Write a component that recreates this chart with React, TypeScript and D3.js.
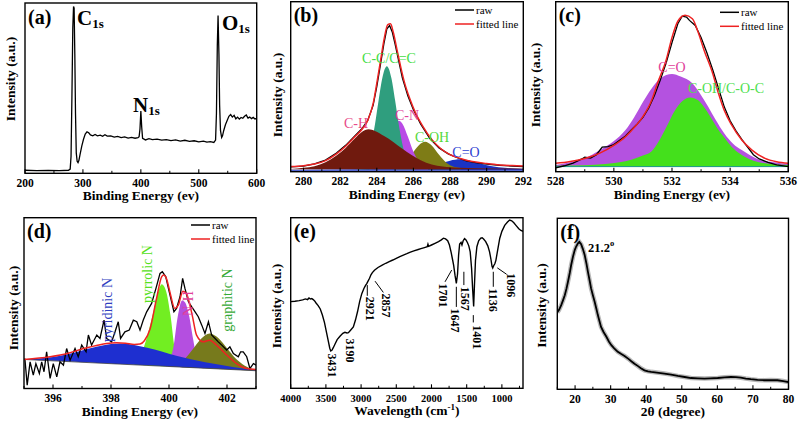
import React from "react";
import * as d3 from "d3";

type Pt = [number, number];

// ---------- (a) XPS survey ----------
const surveySpectrum: Pt[] = [
  [200, 1.8], [220, 1.6], [240, 1.7], [260, 1.6], [275, 1.8], [278, 2.5], [279.5, 10], [281, 45], [282.5, 85],
  [283.8, 98], [284.8, 97], [286, 70], [287.2, 35], [288.5, 12], [290, 7], [291.5, 6.3], [293, 7.5], [295, 11],
  [298, 16], [301, 20], [304, 23], [307, 24.3], [310, 23.8], [313, 22.5], [317, 22], [321, 22.8], [325, 22],
  [330, 22.4], [334, 21.7], [338, 22.6], [342, 21.8], [348, 21.9], [354, 21.2], [360, 21.7], [366, 21],
  [372, 21.4], [378, 20.7], [384, 21.1], [390, 20.6], [395, 20.9], [397, 21.5], [398.5, 26], [400, 36.5],
  [401.5, 27], [403, 20.5], [408, 19.6], [414, 20.3], [420, 19.8], [428, 20.1], [436, 19.5], [444, 19.8],
  [452, 19.2], [460, 19.6], [468, 18.9], [476, 19.4], [484, 18.8], [492, 19.1], [500, 18.5], [508, 18.9],
  [514, 18.3], [520, 18.6], [526, 18.1], [529, 19.5], [530.5, 35], [532, 75], [533.3, 92.7], [534.8, 70],
  [536, 40], [537.5, 25], [539.5, 21], [541, 22], [543, 25], [546, 28.5], [549, 31], [552, 33.5], [555, 34.5],
  [558, 33], [561, 34], [564, 32], [567, 33], [570, 31.8], [573, 32.8], [576, 32.3], [579, 33.5], [582, 34.2],
  [585, 32.4], [588, 33], [591, 32.1], [594, 32.8], [597, 31.9], [600, 32.3],
];
const surveyTicks = [200, 300, 400, 500, 600];
const surveyMinor = [250, 350, 450, 550];

// ---------- (b) C1s ----------
const c1sRaw: Pt[] = [
  [279.3, 2.8], [280, 3.3], [280.6, 4.6], [281.2, 6.8], [281.8, 11], [282.3, 15.5], [282.8, 21], [283.2, 25.5],
  [283.5, 30], [283.8, 39], [284.0, 50], [284.2, 63], [284.4, 76], [284.55, 84], [284.7, 86], [284.85, 82],
  [285.0, 75], [285.2, 65], [285.4, 55], [285.7, 44.5], [286.0, 36.5], [286.4, 28], [286.9, 19.5], [287.4, 14],
  [287.9, 10.5], [288.4, 8.2], [288.9, 6.3], [289.4, 5.3], [290, 4.5], [290.7, 3.8], [291.4, 3.3], [292, 3],
];
const c1sFit: Pt[] = [
  [279.3, 3.0], [280.0, 3.5], [280.6, 4.5], [281.2, 6.5], [281.8, 10.5], [282.3, 15], [282.8, 20.5], [283.2, 25],
  [283.5, 30], [283.8, 40], [284.0, 52], [284.2, 65], [284.4, 78], [284.6, 86.5], [284.75, 87], [284.9, 82],
  [285.1, 72], [285.3, 62], [285.5, 53], [285.8, 43], [286.1, 35], [286.5, 27], [287.0, 19], [287.5, 13.5],
  [288.0, 10], [288.5, 8], [289.0, 6.5], [289.5, 5.5], [290.0, 4.8], [290.7, 4.0], [291.4, 3.6], [292, 3.4],
];
const c1sCH: Pt[] = [
  [279.3, 1.6], [280.0, 2.3], [280.6, 3.2], [281.2, 5.5], [281.8, 9.5], [282.3, 14], [282.8, 19.5], [283.2, 23.5],
  [283.55, 25], [283.9, 24], [284.4, 21], [284.9, 17.5], [285.4, 13.5], [285.9, 9.8], [286.4, 6.8], [287.0, 4.3],
  [287.6, 3], [288.5, 2.3], [289.5, 2.0], [292, 1.8],
];
const c1sCC: Pt[] = [
  [282.9, 2], [283.3, 4.6], [283.6, 11.9], [283.9, 27.8], [284.1, 42], [284.3, 55], [284.55, 62], [284.8, 55],
  [285.0, 42], [285.2, 27.8], [285.5, 11.9], [285.8, 4.6], [286.1, 2.5],
];
const c1sCN: Pt[] = [
  [283.6, 2.4], [284.0, 4.6], [284.4, 11.7], [284.7, 20.5], [285.0, 28.2], [285.2, 30], [285.4, 28.2],
  [285.7, 20.5], [286.0, 11.7], [286.4, 4.6], [286.8, 2.4],
];
const c1sCOH: Pt[] = [
  [285.0, 2.6], [285.5, 5.4], [285.9, 10.2], [286.3, 15.6], [286.64, 17.6], [287.0, 15.4], [287.4, 9.9],
  [287.8, 5.2], [288.2, 2.9], [288.6, 2.2],
];
const c1sCO: Pt[] = [
  [279.3, 1.2], [283, 1.5], [285, 1.8], [286.0, 2.2], [286.8, 3.2], [287.5, 5.0], [288.0, 6.5], [288.55, 7.3],
  [289.1, 6.5], [289.6, 5.0], [290.3, 3.2], [291.0, 2.3], [292, 1.8],
];
const c1sTicks = [280, 282, 284, 286, 288, 290, 292];
const c1sMinor = [281, 283, 285, 287, 289, 291];

// ---------- (c) O1s ----------
const o1sRaw: Pt[] = [
  [528, 2.2], [528.3, 3.5], [528.6, 5], [528.9, 7.5], [529.0, 8.5], [529.2, 8], [529.4, 10], [529.6, 14.5],
  [529.8, 14.8], [530.0, 16], [530.2, 18.5], [530.4, 21], [530.6, 24.5], [530.8, 28], [531.0, 32], [531.2, 37.5],
  [531.4, 45], [531.6, 54], [531.8, 64], [532.0, 76], [532.2, 87], [532.35, 91.5], [532.5, 91], [532.6, 89],
  [532.8, 86], [533.0, 79], [533.2, 70], [533.4, 60], [533.6, 49], [533.8, 38], [534.0, 30], [534.2, 24],
  [534.4, 19], [534.6, 14.5], [534.8, 10], [535.0, 7.5], [535.3, 5.5], [535.6, 4], [536, 3],
];
const o1sFit: Pt[] = [
  [528, 4.9], [528.5, 6], [529, 7.8], [529.5, 10.8], [530, 15.5], [530.4, 20.6], [530.7, 26], [531.0, 32.4],
  [531.3, 42], [531.5, 52], [531.8, 65.7], [532.0, 79], [532.2, 88.5], [532.45, 92], [532.7, 90], [532.9, 82],
  [533.1, 71.6], [533.4, 57.8], [533.6, 46], [533.8, 36], [534.05, 27.5], [534.4, 18.6], [534.75, 12.7],
  [535.2, 7.8], [535.6, 5.8], [536, 4.9],
];
const o1sCO: Pt[] = [
  [528, 4], [528.5, 5.5], [529, 8], [529.5, 12.5], [530, 18], [530.4, 24.5], [530.7, 32], [531.0, 41],
  [531.3, 49], [531.6, 55], [532.0, 57.5], [532.3, 56], [532.7, 52], [533.0, 45], [533.25, 38], [533.5, 30.5],
  [533.8, 22.5], [534.1, 16.5], [534.4, 12.7], [534.7, 9.5], [535.0, 7], [535.5, 5.5], [536, 4.5],
];
const o1sCOH: Pt[] = [
  [528, 3.5], [529, 3.8], [529.7, 4.5], [530.2, 5.5], [530.6, 7], [531.0, 9.5], [531.3, 12], [531.55, 18],
  [531.8, 26], [532.1, 36], [532.35, 41.5], [532.62, 43.7], [532.9, 42], [533.1, 38], [533.35, 31.5],
  [533.6, 24.5], [533.85, 19], [534.05, 14.7], [534.3, 11], [534.5, 8.8], [534.8, 6.5], [535.2, 4.9],
  [535.6, 4.2], [536, 3.9],
];
const o1sTicks = [528, 530, 532, 534, 536];
const o1sMinor = [529, 531, 533, 535];

// ---------- (d) N1s ----------
const n1sRaw: Pt[] = [
  [395.03, 17.6], [395.11, 2.0], [395.21, 15.6], [395.32, 7.8], [395.41, 14.6], [395.53, 8.8], [395.61, 15.6],
  [395.69, 9.8], [395.78, 21.5], [395.9, 5.9], [396.01, 14.6], [396.13, 6.8], [396.24, 15.6], [396.36, 13.7],
  [396.47, 23.4], [396.59, 16.6], [396.76, 23.4], [396.87, 18.6], [396.99, 25.4], [397.14, 21.5], [397.22, 31.3],
  [397.33, 25.4], [397.51, 31.3], [397.62, 29.3], [397.76, 40.0], [397.85, 29.3], [398.02, 27.3], [398.14, 33.2],
  [398.25, 39.1], [398.33, 29.3], [398.48, 33.2], [398.63, 34.2], [398.77, 40.0], [398.89, 39.1], [399.0, 34.2],
  [399.11, 40.0], [399.23, 44.9], [399.4, 49.8], [399.55, 58.6], [399.69, 67.4], [399.77, 68.4], [399.89, 65.4],
  [399.98, 58.6], [400.09, 50.8], [400.17, 44.9], [400.26, 46.9], [400.38, 53.7], [400.47, 64.5], [400.55, 58.6],
  [400.67, 50.8], [400.78, 47.9], [400.9, 44.9], [401.01, 42.0], [401.13, 37.1], [401.24, 32.2], [401.36, 39.1],
  [401.47, 31.3], [401.59, 29.3], [401.7, 27.3], [401.82, 25.4], [401.99, 22.5], [402.1, 24.4], [402.22, 20.5],
  [402.39, 18.6], [402.47, 21.5], [402.56, 21.5], [402.68, 18.6], [402.79, 11.7], [402.91, 14.6], [403.0, 13.7],
];
const n1sFit: Pt[] = [
  [395.0, 17.0], [395.9, 18.6], [396.5, 20.5], [397.05, 23.4], [397.5, 25.2], [397.85, 26.4], [398.2, 26.8],
  [398.5, 26.5], [398.8, 25.8], [399.0, 26.0], [399.15, 28.0], [399.35, 35.0], [399.57, 52.7], [399.75, 65.5],
  [399.82, 66.4], [399.92, 64.0], [400.03, 56.6], [400.2, 46.9], [400.32, 48.8], [400.48, 57.0], [400.6, 55.5],
  [400.8, 43.0], [400.95, 31.2], [401.18, 27.3], [401.4, 28.3], [401.64, 25.4], [402.0, 19.5], [402.33, 14.6],
  [402.68, 11.7], [403.0, 11.1],
];
const n1sBaseline: Pt[] = [[395, 17], [403, 10.4]];
const n1sPyridinic: Pt[] = [
  [395.0, 17.0], [395.5, 17.6], [396, 18.5], [396.5, 20], [397, 22.2], [397.5, 24.4], [398, 26.0], [398.3, 26.3],
  [398.6, 26], [399, 24.8], [399.5, 22.8], [400, 20.4], [400.5, 18.2], [401, 16.3], [401.5, 14.6], [402, 13.2],
  [402.5, 11.9], [403, 10.8],
];
const n1sPyrrolic: Pt[] = [
  [398.8, 14], [399.0, 18], [399.15, 25], [399.3, 34], [399.45, 44], [399.6, 55], [399.75, 61], [399.9, 57],
  [400.05, 43], [400.2, 23], [400.35, 15], [400.5, 13],
];
const n1sNH: Pt[] = [
  [399.9, 13.5], [400.0, 16], [400.15, 24], [400.3, 42], [400.45, 51.5], [400.55, 50.5], [400.7, 42],
  [400.82, 30], [400.92, 21], [401.05, 15], [401.2, 13],
];
const n1sGraphitic: Pt[] = [
  [400.0, 12.9], [400.2, 13.5], [400.5, 16.5], [400.8, 22.5], [401.1, 29], [401.4, 32.2], [401.7, 29.5],
  [402.0, 23.5], [402.3, 17.5], [402.6, 13.5], [402.9, 11.2], [403, 10.8],
];
const n1sTicks = [396, 398, 400, 402];
const n1sMinor = [395, 397, 399, 401, 403];

// ---------- (e) FTIR ----------
const ftirSpectrum: Pt[] = [
  [4000, 50.8], [3940, 51.0], [3880, 51.4], [3830, 51.8], [3790, 52.4], [3760, 52.0], [3740, 52.9], [3720, 52.3],
  [3700, 52.6], [3680, 52.0], [3660, 51.2], [3640, 50.0], [3610, 48.5], [3580, 46.5], [3550, 43.0], [3520, 38.5],
  [3490, 32.5], [3465, 27.5], [3445, 23.5], [3431, 21.9], [3415, 22.3], [3395, 23.8], [3370, 26.0], [3340, 28.5],
  [3300, 30.5], [3260, 32.2], [3230, 32.8], [3200, 32.4], [3180, 32.6], [3150, 34.0], [3110, 36.0], [3080, 40.0],
  [3050, 45.0], [3020, 51.0], [2990, 55.5], [2960, 58.5], [2935, 60.5], [2921, 61.2], [2905, 62.5], [2880, 64.5],
  [2860, 66.5], [2840, 67.8], [2810, 69.2], [2760, 70.8], [2700, 72.2], [2650, 73.3], [2600, 74.3], [2550, 75.2],
  [2500, 76.2], [2450, 77.2], [2400, 78.1], [2350, 78.9], [2300, 79.8], [2250, 80.6], [2200, 81.2], [2150, 81.9],
  [2100, 82.5], [2060, 83.0], [2050, 84.5], [2040, 83.2], [2000, 84.0], [1950, 85.0], [1900, 86.0], [1860, 87.0],
  [1830, 88.0], [1800, 87.6], [1770, 86.5], [1745, 84.0], [1720, 79.5], [1701, 75.5], [1685, 72.0], [1665, 66.0],
  [1647, 61.5], [1630, 67.0], [1615, 78.0], [1600, 84.5], [1580, 85.5], [1567, 84.0], [1550, 86.5], [1530, 87.8],
  [1510, 87.0], [1490, 85.5], [1470, 83.5], [1450, 80.0], [1430, 70.0], [1415, 58.0], [1401, 47.9], [1390, 60.0],
  [1375, 75.0], [1355, 83.0], [1330, 86.5], [1300, 88.0], [1280, 88.2], [1260, 87.5], [1230, 86.0], [1200, 83.5],
  [1175, 80.0], [1155, 75.5], [1140, 71.5], [1130, 70.5], [1115, 72.0], [1100, 73.0], [1085, 75.0], [1060, 81.0],
  [1030, 88.0], [1000, 92.0], [960, 95.5], [920, 97.5], [890, 98.6], [860, 98.2], [830, 97.0], [800, 95.5],
  [760, 93.5], [730, 92.5], [700, 92.0],
];
const ftirTicks = [4000, 3500, 3000, 2500, 2000, 1500, 1000];
const ftirMinor = [3750, 3250, 2750, 2250, 1750, 1250, 750];
const ftirPeakLabels = ["3431", "3190", "2921", "2857", "1701", "1647", "1567", "1401", "1136", "1096"];
// label anchors (top of rotated label) in data coordinates
const ftirLabelAnchors: Pt[] = [
  [3417, 20.4], [3158, 29.2], [2870, 53.6], [2646, 55.6], [1840, 61.5], [1672, 46.8], [1528, 59.5],
  [1358, 37], [1122, 58.5], [875, 67.4],
];
const ftirLeaders: (Pt[] | null)[] = [
  null, null,
  [[2912, 60.5], [2912, 54.2]],
  [[2802, 62.8], [2684, 56.2]],
  [[1713, 69.3], [1808, 62.4]],
  [[1647, 59.5], [1647, 47.7]],
  [[1540, 68.3], [1540, 60.5]],
  [[1406, 42.9], [1406, 38.6]],
  [[1122, 68.3], [1122, 59.5]],
  [[1065, 70.6], [932, 66.8]],
];

// ---------- (f) XRD ----------
const xrdPattern: Pt[] = [
  [15, 45.0], [15.5, 46.5], [16.1, 49.2], [16.6, 52], [17.1, 55], [17.6, 59], [18.0, 62.9], [18.5, 68],
  [18.9, 72.7], [19.4, 77.5], [19.9, 81.4], [20.3, 83.5], [20.8, 85.4], [21.2, 86.2], [21.7, 84.8], [22.2, 82],
  [22.7, 78.5], [23.2, 73.5], [23.6, 68.8], [24.1, 63.5], [24.5, 59], [25.0, 55], [25.5, 51.2], [26.0, 47],
  [26.4, 43.4], [26.9, 39.5], [27.3, 36.5], [28.0, 33.5], [28.8, 30.7], [29.5, 28], [30.2, 25.8], [31.0, 24],
  [32.0, 21.9], [33.0, 20.6], [33.9, 19.5], [35.0, 17.8], [35.8, 16.4], [36.7, 15], [37.6, 13.7], [38.5, 12.3],
  [39.5, 11.1], [40.5, 10.5], [41.4, 10.2], [43, 9.8], [45.1, 9.2], [47, 8.6], [48.9, 7.8], [50.8, 7.2],
  [52.6, 6.6], [54.5, 6.4], [56.4, 6.25], [58, 6.4], [60.1, 6.6], [62, 7.0], [63.8, 7.2], [65.2, 7.1],
  [66.6, 6.8], [68, 6.3], [69.4, 5.9], [71.3, 5.5], [73.2, 5.3], [75, 5.4], [76.9, 5.3], [78.5, 4.8], [80, 4.2],
];
const xrdTicks = [20, 30, 40, 50, 60, 70, 80];
const xrdMinor = [15, 25, 35, 45, 55, 65, 75];

// ---------- drawing ----------
const FONT = "'Liberation Serif','Times New Roman',Times,serif";
type Frame = { l: number; t: number; r: number; b: number };
type Scale = d3.ScaleLinear<number, number>;

const mkLine = (xs: Scale, ys: Scale, curve: d3.CurveFactory = d3.curveLinear) =>
  d3.line<Pt>().x((d) => xs(d[0])).y((d) => ys(d[1])).curve(curve);
const mkArea = (xs: Scale, ys: Scale, base: (x: number) => number, curve: d3.CurveFactory = d3.curveMonotoneX) =>
  d3.area<Pt>().x((d) => xs(d[0])).y0((d) => ys(base(d[0]))).y1((d) => ys(d[1])).curve(curve);

type PanelProps = {
  id: string;
  f: Frame;
  domain: [number, number];
  ticks: number[];
  minor: number[];
  tickFont?: number;
  xTitle: React.ReactNode;
  yTitleX: number;
  yTitleY: number;
  tag: string;
  children: (xs: Scale, ys: Scale) => React.ReactNode;
};

function Panel({ id, f, domain, ticks, minor, tickFont = 11.5, xTitle, yTitleX, yTitleY, tag, children }: PanelProps) {
  const xs = d3.scaleLinear().domain(domain).range([f.l, f.r]);
  const ys = d3.scaleLinear().domain([0, 100]).range([f.b, f.t]);
  return (
    <g>
      <defs>
        <clipPath id={id}>
          <rect x={f.l} y={f.t} width={f.r - f.l} height={f.b - f.t} />
        </clipPath>
      </defs>
      <g clipPath={`url(#${id})`}>{children(xs, ys)}</g>
      <rect x={f.l} y={f.t} width={f.r - f.l} height={f.b - f.t} fill="none" stroke="#000" strokeWidth={1.4} />
      {ticks.map((t) => (
        <line key={"M" + t} x1={xs(t)} x2={xs(t)} y1={f.b} y2={f.b - 4} stroke="#000" strokeWidth={1.1} />
      ))}
      {minor.map((t) => (
        <line key={"m" + t} x1={xs(t)} x2={xs(t)} y1={f.b} y2={f.b - 2.5} stroke="#000" strokeWidth={1} />
      ))}
      {ticks.map((t) => (
        <text key={"L" + t} x={xs(t)} y={f.b + 13.5} textAnchor="middle" fontSize={tickFont} fontWeight="bold">
          {t}
        </text>
      ))}
      <text x={(f.l + f.r) / 2} y={f.b + 27} textAnchor="middle" fontSize={13.5} fontWeight="bold">
        {xTitle}
      </text>
      <text
        transform={`translate(${yTitleX},${yTitleY}) rotate(-90)`}
        textAnchor="middle"
        dominantBaseline="central"
        fontSize={13.5}
        fontWeight="bold"
      >
        Intensity (a.u.)
      </text>
      <text x={f.l + 3} y={f.t + 20.5} fontSize={20} fontWeight="bold">
        {tag}
      </text>
    </g>
  );
}

function Legend({ x, y }: { x: number; y: number }) {
  return (
    <g fontSize={11}>
      <line x1={x} x2={x + 19} y1={y} y2={y} stroke="#000" strokeWidth={1.5} />
      <text x={x + 21} y={y + 3.5}>raw</text>
      <line x1={x} x2={x + 19} y1={y + 14} y2={y + 14} stroke="#ee2222" strokeWidth={1.5} />
      <text x={x + 21} y={y + 17.5}>fitted line</text>
    </g>
  );
}

const RED = "#ee2222";

export default function App() {
  const fa: Frame = { l: 25, t: 3, r: 256.7, b: 173.3 };
  const fb: Frame = { l: 290.7, t: 1.7, r: 523.3, b: 171.7 };
  const fc: Frame = { l: 555.7, t: 1.7, r: 788.3, b: 171.7 };
  const fd: Frame = { l: 24, t: 217.7, r: 256, b: 388.5 };
  const fe: Frame = { l: 290.7, t: 217.7, r: 523, b: 388.3 };
  const ff: Frame = { l: 557.3, t: 218.3, r: 788.5, b: 389.3 };

  const beTitle = "Binding Energy (ev)";

  return (
    <svg
      width={798}
      height={424}
      viewBox="0 0 798 424"
      style={{ position: "absolute", left: 0, top: 0, background: "#fff", fontFamily: FONT }}
      fontFamily={FONT}
    >
      <rect width={798} height={424} fill="#fff" />

      {/* (a) */}
      <Panel id="ca" f={fa} domain={[200, 600]} ticks={surveyTicks} minor={surveyMinor} xTitle={beTitle}
        yTitleX={10.5} yTitleY={79} tag="(a)">
        {(xs, ys) => (
          <path d={mkLine(xs, ys)(surveySpectrum) || ""} fill="none" stroke="#000" strokeWidth={1.3} />
        )}
      </Panel>
      <g fontWeight="bold">
        <text x={77} y={25} fontSize={21}>C<tspan fontSize={13} dy={3}>1s</tspan></text>
        <text x={222} y={30} fontSize={21}>O<tspan fontSize={13} dy={3}>1s</tspan></text>
        <text x={133} y={112} fontSize={21}>N<tspan fontSize={13} dy={3}>1s</tspan></text>
      </g>

      {/* (b) */}
      <Panel id="cb" f={fb} domain={[279.3, 292]} ticks={c1sTicks} minor={c1sMinor} xTitle={beTitle}
        yTitleX={277} yTitleY={95} tag="(b)">
        {(xs, ys) => {
          const base = () => 1.5;
          return (
            <g>
              <path d={mkArea(xs, ys, () => 0.6)(c1sCO) || ""} fill="#1a33c4" />
              <path d={mkArea(xs, ys, base)(c1sCOH) || ""} fill="#7e7c16" />
              <path d={mkArea(xs, ys, base)(c1sCN) || ""} fill="#b94be6" />
              <path d={mkArea(xs, ys, base)(c1sCC) || ""} fill="#2f9e7e" />
              <path d={mkArea(xs, ys, base)(c1sCH) || ""} fill="#701a0e" />
              <path d={mkLine(xs, ys)(c1sRaw) || ""} fill="none" stroke="#000" strokeWidth={1.3} />
              <path d={mkLine(xs, ys, d3.curveMonotoneX)(c1sFit) || ""} fill="none" stroke={RED} strokeWidth={1.5} />
            </g>
          );
        }}
      </Panel>
      <Legend x={455} y={10} />
      <g fontSize={14}>
        <text x={389} y={63} textAnchor="middle" fill="#44dd44">C-C/C=C</text>
        <text x={407} y={120} textAnchor="middle" fill="#e0409a">C-N</text>
        <text x={356} y={128} textAnchor="middle" fill="#e84a8a">C-H</text>
        <text x={432} y={141.5} textAnchor="middle" fill="#55d83a">C-OH</text>
        <text x={466} y={156.5} textAnchor="middle" fill="#2e40d0">C=O</text>
      </g>

      {/* (c) */}
      <Panel id="cc" f={fc} domain={[528, 536]} ticks={o1sTicks} minor={o1sMinor} xTitle={beTitle}
        yTitleX={535} yTitleY={85} tag="(c)">
        {(xs, ys) => {
          const base = () => 3;
          return (
            <g>
              <path d={mkArea(xs, ys, base)(o1sCO) || ""} fill="#b452e0" />
              <path d={mkArea(xs, ys, base)(o1sCOH) || ""} fill="#44e01c" />
              <line x1={xs(528)} x2={xs(536)} y1={ys(3)} y2={ys(3)} stroke="#1a9a8a" strokeWidth={1} />
              <path d={mkLine(xs, ys)(o1sRaw) || ""} fill="none" stroke="#000" strokeWidth={1.3} />
              <path d={mkLine(xs, ys, d3.curveMonotoneX)(o1sFit) || ""} fill="none" stroke={RED} strokeWidth={1.5} />
            </g>
          );
        }}
      </Panel>
      <Legend x={720} y={12.3} />
      <g fontSize={14}>
        <text x={672} y={71.5} textAnchor="middle" fill="#e0409a">C=O</text>
        <text x={726} y={93} textAnchor="middle" fill="#4ee04e">C-OH/C-O-C</text>
      </g>

      {/* (d) */}
      <Panel id="cd" f={fd} domain={[395, 403]} ticks={n1sTicks} minor={n1sMinor} xTitle={beTitle}
        yTitleX={13.3} yTitleY={308} tag="(d)">
        {(xs, ys) => {
          const baseScale = d3.scaleLinear().domain(n1sBaseline.map((d) => d[0])).range(n1sBaseline.map((d) => d[1]));
          const base = (x: number) => baseScale(x);
          return (
            <g>
              <path d={mkArea(xs, ys, base)(n1sPyrrolic) || ""} fill="#72ee22" />
              <path d={mkArea(xs, ys, base)(n1sNH) || ""} fill="#b44fe0" />
              <path d={mkArea(xs, ys, base)(n1sGraphitic) || ""} fill="#777a1c" />
              <path d={mkArea(xs, ys, base)(n1sPyridinic) || ""} fill="#1e2fd0" />
              <path d={mkLine(xs, ys)(n1sBaseline) || ""} fill="none" stroke="#444" strokeWidth={0.8} />
              <path d={mkLine(xs, ys)(n1sRaw) || ""} fill="none" stroke="#000" strokeWidth={1.3} />
              <path d={mkLine(xs, ys, d3.curveMonotoneX)(n1sFit) || ""} fill="none" stroke={RED} strokeWidth={1.5} />
            </g>
          );
        }}
      </Panel>
      <Legend x={191} y={225} />
      <g fontSize={14} textAnchor="middle" dominantBaseline="central">
        <text transform="translate(107,310) rotate(-90)" fill="#3040c0">pyridinic N</text>
        <text transform="translate(147,274) rotate(-90)" fill="#55e020">pyrrolic N</text>
        <text transform="translate(188.3,303.5) rotate(-90)" fill="#e0409a">N-H</text>
        <text transform="translate(227,300) rotate(-90)" fill="#34a834">graphitic N</text>
      </g>

      {/* (e) */}
      <Panel id="ce" f={fe} domain={[4000, 700]} ticks={ftirTicks} minor={ftirMinor} tickFont={10.5}
        xTitle={<>Wavelength (cm<tspan fontSize={9} dy={-5}>-1</tspan><tspan dy={5}>)</tspan></>}
        yTitleX={276.7} yTitleY={306} tag="(e)">
        {(xs, ys) => (
          <g>
            <path d={mkLine(xs, ys)(ftirSpectrum) || ""} fill="none" stroke="#000" strokeWidth={1.4} />
            {ftirLeaders.map((l, i) =>
              l ? <path key={i} d={mkLine(xs, ys)(l) || ""} stroke="#000" strokeWidth={1} fill="none" /> : null
            )}
            {ftirPeakLabels.map((lab, i) => (
              <text
                key={lab}
                transform={`translate(${xs(ftirLabelAnchors[i][0])},${ys(ftirLabelAnchors[i][1])}) rotate(90)`}
                dominantBaseline="central"
                fontSize={12}
                fontWeight="bold"
              >
                {lab}
              </text>
            ))}
          </g>
        )}
      </Panel>

      {/* (f) */}
      <Panel id="cf" f={ff} domain={[15, 80]} ticks={xrdTicks} minor={xrdMinor}
        xTitle={"2θ (degree)"} yTitleX={541.7} yTitleY={305.5} tag="(f)">
        {(xs, ys) => (
          <g>
            <path d={mkLine(xs, ys)(xrdPattern) || ""} fill="none" stroke="#b8b8b8" strokeWidth={4.5} />
            <path d={mkLine(xs, ys)(xrdPattern) || ""} fill="none" stroke="#000" strokeWidth={1.8} />
          </g>
        )}
      </Panel>
      <text x={588} y={252} fontSize={12.5} fontWeight="bold">
        21.2<tspan fontSize={8.5} dy={-6}>o</tspan>
      </text>
    </svg>
  );
}
